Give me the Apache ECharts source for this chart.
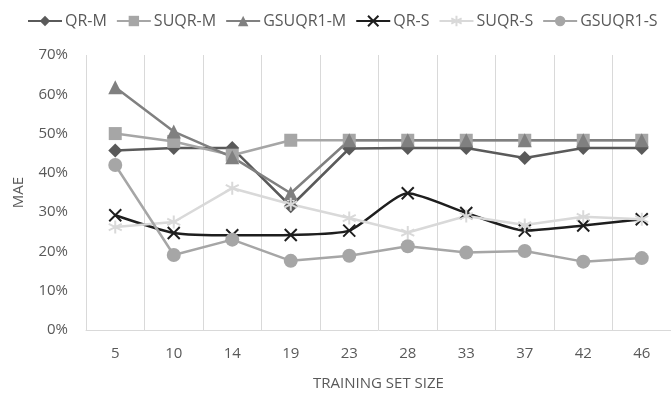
<!DOCTYPE html>
<html>
<head>
<meta charset="utf-8">
<script src="https://cdn.jsdelivr.net/npm/echarts@6/dist/echarts.min.js"></script>
<style>
  html, body { margin: 0; padding: 0; background: #fff; }
  #chart { width: 671px; height: 396px; }
</style>
</head>
<body>
<div id="chart"></div>
<script>
// Training set sizes along the x axis
const trainingSizes = ['5', '10', '14', '19', '23', '28', '33', '37', '42', '46'];

// Mean absolute error (%) per model
const qrM      = [45.7, 46.3, 46.3, 31.5, 46.2, 46.3, 46.3, 43.8, 46.3, 46.3];
const suqrM    = [50.0, 48.0, 44.5, 48.3, 48.3, 48.3, 48.3, 48.3, 48.3, 48.3];
const gsuqr1M  = [61.8, 50.5, 44.0, 34.8, 48.3, 48.3, 48.3, 48.3, 48.3, 48.3];
const qrS      = [29.2, 24.7, 24.1, 24.2, 25.3, 34.8, 29.8, 25.3, 26.6, 28.2];
const suqrS    = [26.2, 27.5, 36.1, 32.0, 28.5, 24.8, 29.0, 26.7, 28.8, 28.2];
const gsuqr1S  = [42.0, 19.1, 23.0, 17.6, 18.9, 21.3, 19.7, 20.1, 17.4, 18.3];

const yTicks = { min: 0, max: 70, step: 10 };

const FONT = "'Open Sans', 'Liberation Sans', sans-serif";
const TEXT = '#595959';

const crossPath = 'path://M0,0L10,10M10,0L0,10';
const starPath = 'path://M5,0L5,10M0,2.5L10,7.5M10,2.5L0,7.5';

function lineSeries(name, data, color, symbol, size, extra) {
  return Object.assign({
    name: name,
    type: 'line',
    data: data,
    symbol: symbol,
    symbolSize: size,
    lineStyle: { color: color, width: 2.5 },
    itemStyle: { color: color },
    emphasis: { disabled: true },
    animation: false
  }, extra || {});
}

const chart = echarts.init(document.getElementById('chart'), null, { renderer: 'canvas' });

chart.setOption({
  backgroundColor: '#ffffff',
  textStyle: { fontFamily: FONT },
  legend: {
    top: 8,
    left: 22,
    itemWidth: 34,
    itemHeight: 13,
    itemGap: 9,
    textStyle: { color: TEXT, fontSize: 16, fontFamily: FONT, padding: [0, 0, 0, -2] },
    data: ['QR-M', 'SUQR-M', 'GSUQR1-M', 'QR-S', 'SUQR-S', 'GSUQR1-S']
  },
  grid: { left: 86, right: -11, top: 55, bottom: 61, containLabel: false },
  xAxis: {
    type: 'category',
    data: trainingSizes,
    boundaryGap: true,
    name: 'TRAINING SET SIZE',
    nameLocation: 'middle',
    nameGap: 46,
    nameTextStyle: { color: TEXT, fontSize: 15, fontFamily: FONT },
    axisLine: { show: true, lineStyle: { color: '#d9d9d9', width: 1 } },
    axisTick: { show: false },
    axisLabel: { color: TEXT, fontSize: 15, margin: 16, fontFamily: FONT },
    splitLine: { show: true, lineStyle: { color: '#d9d9d9', width: 1 } }
  },
  yAxis: {
    type: 'value',
    min: yTicks.min,
    max: yTicks.max,
    interval: yTicks.step,
    name: 'MAE',
    nameLocation: 'middle',
    nameGap: 60,
    nameTextStyle: { color: TEXT, fontSize: 15, fontFamily: FONT },
    axisLine: { show: false },
    axisTick: { show: false },
    axisLabel: { color: TEXT, fontSize: 15, margin: 18, formatter: '{value}%', fontFamily: FONT },
    splitLine: { show: false }
  },
  series: [
    lineSeries('QR-M', qrM, '#5a5a5a', 'diamond', 14),
    lineSeries('SUQR-M', suqrM, '#a6a6a6', 'rect', 13),
    lineSeries('GSUQR1-M', gsuqr1M, '#808080', 'triangle', 14),
    lineSeries('QR-S', qrS, '#1e1e1e', crossPath, 12, {
      smooth: 0.2,
      itemStyle: { color: '#1e1e1e', borderColor: '#1e1e1e', borderWidth: 2 }
    }),
    lineSeries('SUQR-S', suqrS, '#d9d9d9', starPath, 13, {
      itemStyle: { color: '#d9d9d9', borderColor: '#d9d9d9', borderWidth: 2 }
    }),
    lineSeries('GSUQR1-S', gsuqr1S, '#a6a6a6', 'circle', 14)
  ]
});
</script>
</body>
</html>
